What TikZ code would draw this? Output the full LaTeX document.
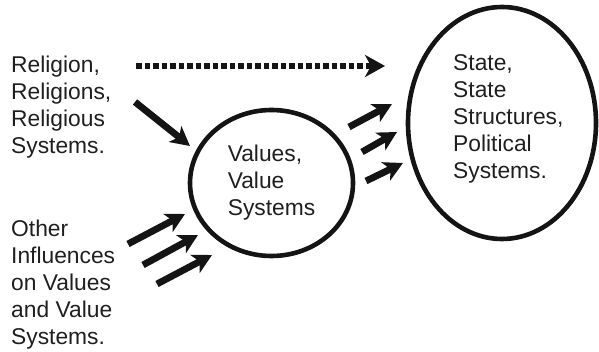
\documentclass[tikz,border=0pt]{standalone}
\usepackage{fontspec}
\setmainfont{Liberation Sans}
\usetikzlibrary{arrows.meta,shapes.geometric}
\begin{document}
\begin{tikzpicture}[x=1pt,y=-1pt,
  txt/.style={font=\fontsize{22.8}{27}\selectfont, align=left, inner sep=0pt, text=black!88},
  bubble/.style={draw=black!92, line width=4.6pt, ellipse, inner sep=0pt},
  bigarrow/.style={line width=6.8pt, draw=black!92, -{Stealth[length=19pt,width=20pt,inset=5pt]}},
  dotarrow/.style={line width=5.6pt, draw=black!92, dash pattern=on 5.6pt off 2.9pt, -{Stealth[length=20pt,width=22pt,inset=6pt]}}
]
\useasboundingbox (0,0) rectangle (599,352);
% text blocks
\node[txt, anchor=north west] (rel) at (11,55.5) {Religion,\\Religions,\\Religious\\Systems.};
\node[txt, anchor=north west] (oth) at (11,219.5) {Other\\Influences\\on Values\\and Value\\Systems.};
% bubbles
\node[bubble, txt, minimum width=163pt, minimum height=146pt] (val) at (271.5,183) {Values,\\Value\\Systems};
\node[bubble, minimum width=188pt, minimum height=232pt] (sta) at (502,123) {};
\node[txt, anchor=north west] (statxt) at (453,54.5) {State,\\State\\Structures,\\Political\\Systems.};
% coordinates for arrow ends
\coordinate (d1) at (136,66);
\coordinate (d2) at (385,66);
\coordinate (r1) at (135,102);
\coordinate (r2) at (190,146);
\coordinate (o1a) at (128,244);
\coordinate (o1b) at (185,214);
\coordinate (o2a) at (143,265);
\coordinate (o2b) at (198,235);
\coordinate (o3a) at (157,284);
\coordinate (o3b) at (212,255);
\coordinate (v1a) at (349,127);
\coordinate (v1b) at (392,104);
\coordinate (v2a) at (362,152);
\coordinate (v2b) at (397,132);
\coordinate (v3a) at (366,181);
\coordinate (v3b) at (403,163);
% connectors
\draw[dotarrow] (d1) -- (d2);
\draw[bigarrow] (r1) -- (r2);
\draw[bigarrow] (o1a) -- (o1b);
\draw[bigarrow] (o2a) -- (o2b);
\draw[bigarrow] (o3a) -- (o3b);
\draw[bigarrow] (v1a) -- (v1b);
\draw[bigarrow] (v2a) -- (v2b);
\draw[bigarrow] (v3a) -- (v3b);
\end{tikzpicture}
\end{document}
